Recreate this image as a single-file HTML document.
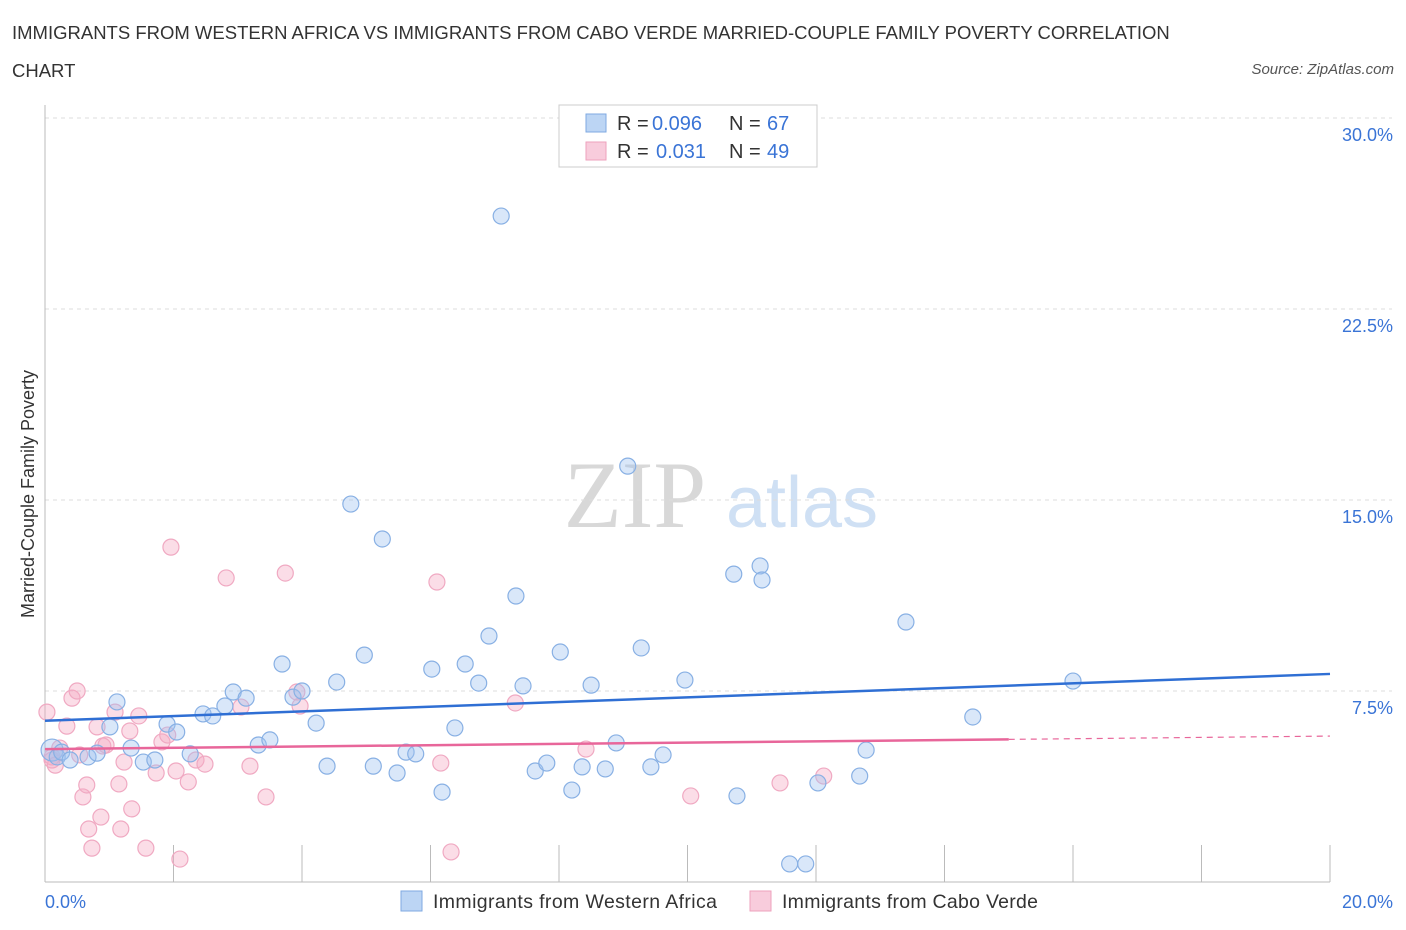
<!DOCTYPE html>
<html><head><meta charset="utf-8"><style>
body{margin:0;background:#fff;font-family:"Liberation Sans",sans-serif;}
#wrap{position:relative;width:1406px;height:930px;overflow:hidden;}
.t{position:absolute;color:#333;font-size:18.5px;}
</style></head><body>
<div id="wrap">
<div class="t" style="left:12px;top:22px;">IMMIGRANTS FROM WESTERN AFRICA VS IMMIGRANTS FROM CABO VERDE MARRIED-COUPLE FAMILY POVERTY CORRELATION</div>
<div class="t" style="left:12px;top:60px;">CHART</div>
<div class="t" style="right:12px;top:61px;font-size:15px;font-style:italic;color:#555;">Source: ZipAtlas.com</div>
<svg id="svg" width="1406" height="930" style="position:absolute;left:0;top:0"></svg>
</div>
<script>
const xTicks=[0,2,4,6,8,10,12,14,16,18,20];
const yTicks=[7.5,15,22.5,30];
const yTickLabels=["7.5%","15.0%","22.5%","30.0%"];
const blueX=[0.11,0.19,0.26,0.39,0.67,0.81,1.12,1.01,1.34,1.53,1.71,1.90,2.05,2.26,2.46,2.61,2.80,2.93,3.13,3.32,3.50,3.69,3.86,4.00,4.22,4.39,4.54,4.76,4.97,5.11,5.25,5.48,5.62,5.77,6.02,6.18,6.38,6.54,6.75,6.91,7.10,7.33,7.44,7.63,7.81,8.02,8.20,8.36,8.50,8.72,8.89,9.07,9.28,9.43,9.62,9.96,10.72,10.77,11.13,11.16,11.59,11.84,12.03,12.68,12.78,13.40,14.44,16.00];
const blueY=[5.18,4.91,5.10,4.79,4.91,5.06,7.07,6.09,5.26,4.71,4.79,6.20,5.89,5.03,6.60,6.52,6.91,7.46,7.22,5.38,5.58,8.56,7.26,7.50,6.24,4.55,7.85,14.84,8.91,4.55,13.47,4.28,5.10,5.03,8.36,3.53,6.05,8.56,7.81,9.66,26.15,11.23,7.70,4.36,4.67,9.03,3.61,4.52,7.73,4.44,5.46,16.33,9.19,4.52,4.99,7.93,12.09,3.38,12.41,11.86,0.71,0.71,3.89,4.16,5.18,10.21,6.48,7.89];
const pinkX=[0.03,0.11,0.16,0.23,0.34,0.42,0.50,0.54,0.59,0.65,0.68,0.73,0.81,0.87,0.90,0.95,1.09,1.15,1.18,1.23,1.32,1.35,1.46,1.57,1.73,1.82,1.91,1.96,2.04,2.10,2.23,2.35,2.49,2.82,3.05,3.19,3.44,3.74,3.92,3.97,6.10,6.16,6.32,7.32,8.42,10.05,11.44,12.12,0.11];
const pinkY=[6.67,4.79,4.59,5.26,6.12,7.22,7.50,4.99,3.34,3.81,2.08,1.33,6.09,2.55,5.34,5.38,6.67,3.85,2.08,4.71,5.93,2.87,6.52,1.33,4.28,5.50,5.77,13.15,4.36,0.90,3.93,4.79,4.63,11.94,6.87,4.55,3.34,12.13,7.46,6.91,11.78,4.67,1.18,7.03,5.22,3.38,3.89,4.16,4.91];
const blueTrendX=[0,20], blueTrendY=[6.33,8.17];
const pinkTrendX=[0,15,20], pinkTrendY=[5.22,5.60,5.73];

const X=v=>45+v/20*1285, Y=v=>882-v/7.5*191;
const svg=document.getElementById('svg'), NS="http://www.w3.org/2000/svg";
function mk(tag,attrs,parent){const e=document.createElementNS(NS,tag);for(const k in attrs)e.setAttribute(k,attrs[k]);(parent||svg).appendChild(e);return e;}
let w=mk('text',{x:635,y:527,'text-anchor':'middle','font-family':'Liberation Serif,serif','font-size':95,fill:'#d8d8d8'});w.textContent='ZIP';

let w2=mk('text',{x:802,y:527,'text-anchor':'middle','font-family':'Liberation Sans,sans-serif','font-size':72,fill:'#cfe0f4'});w2.textContent='atlas';

yTicks.forEach((t,i)=>{
 const g=mk('line',{x1:45,x2:1392,y1:Y(t),y2:Y(t),stroke:'#ddd','stroke-dasharray':'4,4'});
 
 const l=mk('text',{x:1393,y:Y(t)+23,'text-anchor':'end','font-size':18,fill:'#3a74d6','font-family':'Liberation Sans,sans-serif'});l.textContent=yTickLabels[i];
 
});
let ax=mk('line',{x1:45,x2:45,y1:105,y2:882,stroke:'#bbb'});
let bx=mk('line',{x1:45,x2:1330,y1:882,y2:882,stroke:'#bbb'});
xTicks.forEach(t=>{const k=mk('line',{x1:X(t),x2:X(t),y1:845,y2:882,stroke:'#bbb'});});
let xl0=mk('text',{x:45,y:908,'font-size':18,fill:'#3a74d6'});xl0.textContent='0.0%';
let xl1=mk('text',{x:1393,y:908,'text-anchor':'end','font-size':18,fill:'#3a74d6'});xl1.textContent='20.0%';
let yt=mk('text',{x:34,y:494,'text-anchor':'middle','font-size':18,fill:'#333',transform:'rotate(-90 34 494)'});yt.textContent='Married-Couple Family Poverty';

pinkX.forEach((v,i)=>{const c=mk('circle',{cx:X(v),cy:Y(pinkY[i]),r:8,fill:'rgba(244,170,196,0.4)',stroke:'#f0a9c2','stroke-width':1.2});
 });
blueX.forEach((v,i)=>{const c=mk('circle',{cx:X(v),cy:Y(blueY[i]),r:i==0?11:8,fill:'rgba(160,195,240,0.4)',stroke:'#88b0e4','stroke-width':1.2});
 });
let bt=mk('line',{x1:X(blueTrendX[0]),y1:Y(blueTrendY[0]),x2:X(blueTrendX[1]),y2:Y(blueTrendY[1]),stroke:'#2f6fd4','stroke-width':2.5});

let pt=mk('line',{x1:X(pinkTrendX[0]),y1:Y(pinkTrendY[0]),x2:X(pinkTrendX[1]),y2:Y(pinkTrendY[1]),stroke:'#e8669a','stroke-width':2.5});

let pd=mk('line',{x1:X(pinkTrendX[1]),y1:Y(pinkTrendY[1]),x2:X(pinkTrendX[2]),y2:Y(pinkTrendY[2]),stroke:'#e8669a','stroke-width':1.2,'stroke-dasharray':'6,5'});

let lb=mk('rect',{x:559,y:105,width:258,height:62,fill:'#fff',stroke:'#ccc'});
[[0,'rgba(160,195,240,0.7)','#7fa9e2','0.096','67',652],[1,'rgba(244,170,196,0.6)','#eea2bd','0.031','49',656]].forEach(r=>{
 const y=123+r[0]*28;
 const s=mk('rect',{x:586,y:y-9,width:20,height:18,fill:r[1],stroke:r[2]});
 const a=mk('text',{x:617,y:y+7,'font-size':20,fill:'#333'});a.textContent='R =';
 const b=mk('text',{x:r[5],y:y+7,'font-size':20,fill:'#3a74d6'});b.textContent=r[3];
 const c=mk('text',{x:729,y:y+7,'font-size':20,fill:'#333'});c.textContent='N =';
 const d=mk('text',{x:767,y:y+7,'font-size':20,fill:'#3a74d6'});d.textContent=r[4];
});
[[401,'rgba(160,195,240,0.7)','#7fa9e2','Immigrants from Western Africa','legend-western-africa'],[750,'rgba(244,170,196,0.6)','#eea2bd','Immigrants from Cabo Verde','legend-cabo-verde']].forEach(r=>{
 const s=mk('rect',{x:r[0],y:891,width:21,height:20,fill:r[1],stroke:r[2]});
 const t=mk('text',{x:r[0]+32,y:908,'font-size':19.5,fill:'#333',textLength:r[0]==401?284:256});t.textContent=r[3];
 
});
</script>
</body></html>
